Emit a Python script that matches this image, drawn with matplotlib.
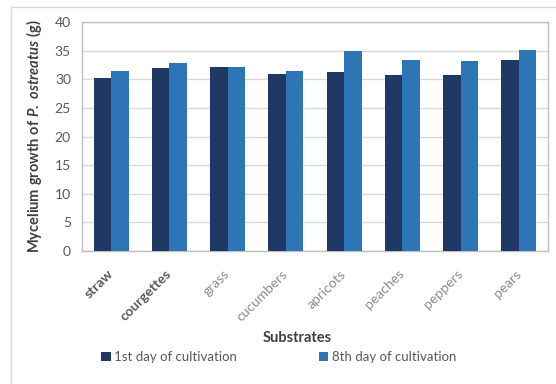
import numpy as np
import matplotlib.pyplot as plt
from matplotlib.patches import Rectangle

plt.rcParams['font.family'] = ['Lato', 'DejaVu Sans']
plt.rcParams['mathtext.fontset'] = 'custom'
plt.rcParams['mathtext.rm'] = 'Lato:bold'
plt.rcParams['mathtext.it'] = 'Lato:bold:italic'

substrates = ['straw', 'courgettes', 'grass', 'cucumbers', 'apricots',
              'peaches', 'peppers', 'pears']
day1 = [30.2, 32.0, 32.2, 30.9, 31.3, 30.8, 30.7, 33.4]
day8 = [31.4, 32.8, 32.2, 31.4, 35.0, 33.4, 33.2, 35.1]
yticks = [0, 5, 10, 15, 20, 25, 30, 35, 40]

dark = '#1f3864'
light = '#2e75b6'

fig = plt.figure(figsize=(5.56, 3.84), dpi=100)
# light frame around the chart area, open at the right and bottom
fig.patches.append(Rectangle((11 / 556, -0.1), 1.2, (384 - 7) / 384 + 0.1,
                             transform=fig.transFigure, fill=False,
                             edgecolor='#d9d9d9', linewidth=1))
ax = fig.add_axes([82 / 556, 1 - 251 / 384, (548 - 82) / 556, (251 - 22) / 384])

x = np.arange(len(substrates))
w = 0.3
ax.bar(x - w / 2, day1, w, color=dark, label='1st day of cultivation', zorder=3)
ax.bar(x + w / 2, day8, w, color=light, label='8th day of cultivation', zorder=3)

ax.set_xlim(-0.5, len(substrates) - 0.5)
ax.set_ylim(0, 40)
ax.set_yticks(yticks)
ax.yaxis.grid(True, color='#d9d9d9', linewidth=1, zorder=0)
for s in ax.spines.values():
    s.set_color('#bfbfbf')
    s.set_linewidth(1)
ax.tick_params(axis='both', length=0, labelsize=10, colors='#595959')
ax.tick_params(axis='y', pad=8)
ax.tick_params(axis='x', pad=15)

ax.set_xticks(x)
ax.set_xticklabels(substrates, rotation=45, ha='right', va='center',
                   rotation_mode='anchor')
# first two labels are bold and darker in the original
for i, lab in enumerate(ax.get_xticklabels()):
    if i < 2:
        lab.set_fontweight('bold')
        lab.set_color('#595959')
    else:
        lab.set_color('#8c8c8c')

ax.set_xlabel('Substrates', fontsize=10.5, fontweight='bold', color='#404040')
ax.xaxis.set_label_coords((297 - 82) / 466, (251 - 331) / 229)
ax.set_ylabel(r'$\mathrm{Mycelium\ growth\ of\ }\mathit{P.\ ostreatus}\mathrm{\ (g)}$',
              fontsize=10.5, color='#404040', labelpad=8)

fig.legend(loc='center', bbox_to_anchor=(279 / 556, 1 - 357 / 384), ncol=2,
           frameon=False, fontsize=9.5, handlelength=0.7, handleheight=0.7,
           handletextpad=0.3, columnspacing=6.2, labelcolor='#595959')

fig.savefig('out.png', dpi=100)
